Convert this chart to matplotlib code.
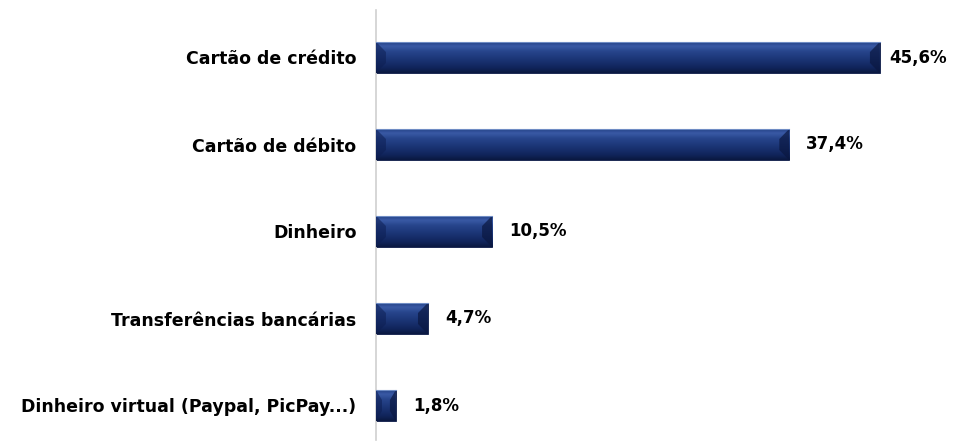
import matplotlib
matplotlib.use("Agg")
import matplotlib.pyplot as plt
import numpy as np
from matplotlib.colors import LinearSegmentedColormap

categories = ["Cartão de crédito", "Cartão de débito", "Dinheiro",
              "Transferências bancárias", "Dinheiro virtual (Paypal, PicPay...)"]
values = [45.6, 37.4, 10.5, 4.7, 1.8]
value_labels = ["45,6%", "37,4%", "10,5%", "4,7%", "1,8%"]

plt.rcParams['font.family'] = ['DejaVu Sans']

fig = plt.figure(figsize=(9.54, 4.45), dpi=100)
W, H = 954, 445
left, right = 376 / W, (376 + 50 * 11.05) / W
bottom, top = 1 - 440 / H, 1 - 10 / H
ax = fig.add_axes([left, bottom, right - left, top - bottom])

n = len(categories)
ypos = np.arange(n)[::-1]
bh = 0.36
bars = ax.barh(ypos, values, height=bh, color="#1c3473", edgecolor="#0c1a45", linewidth=0.6, zorder=2)

cmap = LinearSegmentedColormap.from_list("bev", [
    (0.0, "#1d3a7e"), (0.15, "#3a5aa6"), (0.32, "#27458c"),
    (0.6, "#1a3373"), (0.85, "#10245a"), (1.0, "#0a1840")])
grad = np.linspace(0, 1, 64).reshape(-1, 1)
for b, y, v in zip(bars, ypos, values):
    im = ax.imshow(grad, aspect="auto", cmap=cmap,
                   extent=[0, v, y - bh / 2, y + bh / 2], zorder=3, interpolation="bicubic")
    im.set_clip_path(b)
    d = min(0.9, v * 0.3)
    hh = bh / 2
    ax.fill([0, d, d, 0], [y - hh, y - hh * 0.35, y + hh * 0.35, y + hh], color="#0d1e52", alpha=0.55, zorder=4, lw=0)
    ax.fill([v, v - d, v - d, v], [y - hh, y - hh * 0.35, y + hh * 0.35, y + hh], color="#0a1740", alpha=0.7, zorder=4, lw=0)
    ax.plot([0, v], [y + hh, y + hh], color="#6f8cc4", lw=0.8, zorder=5)

for i, (y, v, lab) in enumerate(zip(ypos, values, value_labels)):
    off = 9 if i == 0 else 17
    ax.annotate(lab, (v, y), xytext=(off * 0.72, 0), textcoords="offset points",
                va="center", ha="left", fontsize=12, fontweight="bold", color="black")

ax.set_xlim(0, 50)
ax.set_ylim(-(440 - 405.5) / 87, 4 + (57.5 - 10) / 87)
ax.set_yticks(ypos)
ax.set_yticklabels(categories, fontsize=12.5, fontweight="bold")
ax.tick_params(axis="y", length=0, pad=14)
ax.set_xticks([])
for s in ["top", "right", "bottom"]:
    ax.spines[s].set_visible(False)
ax.spines["left"].set_color("#d0d0d0")
ax.spines["left"].set_linewidth(1.2)

fig.savefig("out.png", dpi=100)
